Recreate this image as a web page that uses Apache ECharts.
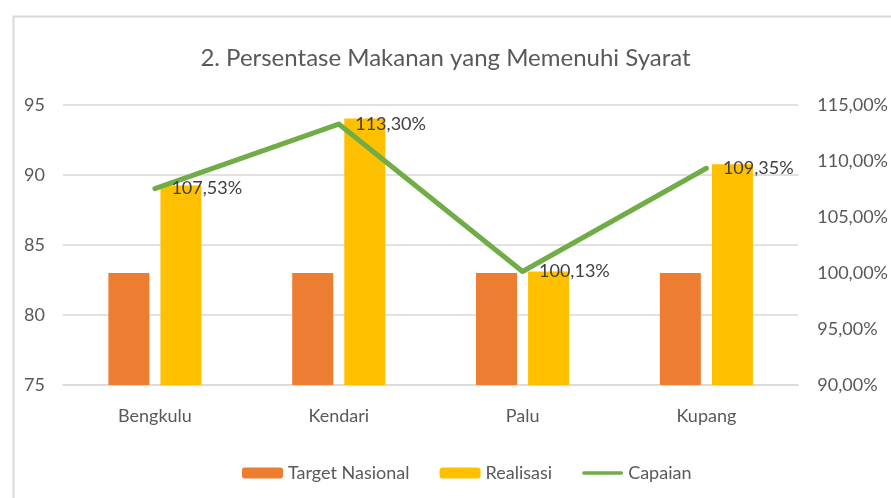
<!DOCTYPE html>
<html>
<head>
<meta charset="utf-8">
<script src="https://cdn.jsdelivr.net/npm/echarts@6/dist/echarts.min.js"></script>
<style>
  html, body { margin: 0; padding: 0; background: #fff; }
  #chart { width: 891px; height: 498px; }
</style>
</head>
<body>
<div id="chart"></div>
<script>
// data
const cities = ['Bengkulu', 'Kendari', 'Palu', 'Kupang'];
const targetNasional = [83, 83, 83, 83];
const realisasi = [89.25, 94.04, 83.11, 90.76];
const capaian = [107.53, 113.30, 100.13, 109.35];

const fontFam = 'Lato, "Open Sans", sans-serif';
const pct = v => v.toFixed(2).replace('.', ',') + '%';

const chart = echarts.init(document.getElementById('chart'));

const option = {
    backgroundColor: '#fff',
    animation: false,
    textStyle: { fontFamily: fontFam },
    // outer frame of the chart area
    graphic: [{
        type: 'rect',
        left: 11, top: 14,
        shape: { width: 1000, height: 600 },
        style: { fill: 'none', stroke: '#d9d9d9', lineWidth: 2 },
        silent: true
    }],
    title: {
        text: '2. Persentase Makanan yang Memenuhi Syarat',
        left: 'center',
        top: 41,
        textStyle: { fontFamily: fontFam, fontSize: 24, fontWeight: 'normal', color: '#595959' }
    },
    legend: {
        left: 237,
        top: 459,
        itemWidth: 41,
        itemHeight: 11,
        itemGap: 30,
        textStyle: { fontFamily: fontFam, fontSize: 18, color: '#595959' },
        data: [
            'Target Nasional',
            'Realisasi',
            {
                name: 'Capaian',
                icon: 'path://M2,0 L44,0 A2,2 0 0 1 44,4 L2,4 A2,2 0 0 1 2,0 Z',
                itemStyle: { color: '#70ad47' }
            }
        ]
    },
    grid: { left: 63, right: 88, top: 105, bottom: 113 },
    xAxis: {
        type: 'category',
        data: cities,
        axisLine: { lineStyle: { color: '#d9d9d9', width: 1.5 } },
        axisTick: { show: false },
        axisLabel: { color: '#595959', fontSize: 18, margin: 22 }
    },
    yAxis: [
        {
            type: 'value',
            min: 75, max: 95, interval: 5,
            axisLine: { show: false },
            axisTick: { show: false },
            axisLabel: { color: '#595959', fontSize: 18, margin: 18 },
            splitLine: { lineStyle: { color: '#d9d9d9', width: 1.5 } }
        },
        {
            type: 'value',
            min: 90, max: 115, interval: 5,
            axisLine: { show: false },
            axisTick: { show: false },
            splitLine: { show: false },
            axisLabel: { color: '#595959', fontSize: 18, margin: 19, formatter: pct }
        }
    ],
    series: [
        {
            name: 'Target Nasional',
            type: 'bar',
            data: targetNasional,
            barWidth: 41,
            barGap: '27%',
            itemStyle: { color: '#ed7d31' }
        },
        {
            name: 'Realisasi',
            type: 'bar',
            data: realisasi,
            barWidth: 41,
            itemStyle: { color: '#ffc000' }
        },
        {
            name: 'Capaian',
            type: 'line',
            yAxisIndex: 1,
            data: capaian,
            symbol: 'circle',
            symbolSize: 1,
            showSymbol: true,
            z: 5,
            lineStyle: { color: '#70ad47', width: 5, cap: 'round', join: 'round' },
            itemStyle: { color: '#70ad47' },
            label: {
                show: true,
                position: 'right',
                distance: 16,
                color: '#404040',
                fontSize: 18,
                formatter: p => pct(p.value)
            }
        }
    ]
};

chart.setOption(option);
</script>
</body>
</html>
